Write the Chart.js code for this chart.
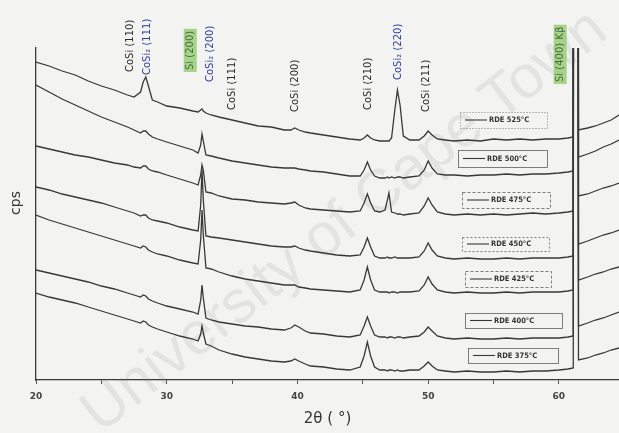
<!DOCTYPE html>
<html>
<head>
<meta charset="utf-8">
<script src="https://cdn.jsdelivr.net/npm/chart.js@4.4.1/dist/chart.umd.min.js"></script>
<style>
  html, body { margin: 0; padding: 0; background: #f3f3f1; }
  #wrap { width: 619px; height: 433px; position: relative; }
</style>
</head>
<body>
<div id="wrap"><canvas id="xrd" width="619" height="433"></canvas></div>
<script>
// 2θ sampling positions (degrees), shared by every pattern
const twoTheta = [20, 21, 22, 23, 24, 25, 26, 27, 27.5, 28,
  28.2, 28.4, 28.6, 28.9, 29.3, 30, 31, 32, 32.4, 32.6,
  32.7, 32.8, 33, 33.4, 34, 35, 36, 37, 38, 39,
  39.5, 39.8, 40.1, 40.6, 41, 42, 43, 44, 44.8, 45.1,
  45.35, 45.6, 45.9, 46.3, 46.7, 46.9, 47.0, 47.2, 47.45, 47.65,
  47.85, 48.1, 48.6, 49.3, 49.7, 50.0, 50.3, 50.7, 51.3, 52,
  53, 54, 55, 56, 57, 58, 59, 60, 60.7, 61.1,
  61.2, 61.4, 61.5, 62.2, 62.8, 63.4, 64, 64.6];

// Offset intensities (cps) for each anneal temperature, top pattern first
const rde525 = [318, 314, 309, 305, 299, 294, 290, 285, 283, 288,
  298, 303, 294, 280, 278, 274, 272, 269, 268, 270,
  271, 269, 267, 265, 263, 260, 257, 254, 253, 250,
  250, 252, 250, 248, 247, 245, 243, 241, 240, 242,
  245, 242, 240, 239, 239, 239, 239, 242, 270, 290,
  275, 244, 240, 240, 244, 249, 245, 241, 240, 239,
  240, 239, 241, 240, 241, 240, 241, 241, 242, 243,
  2000, 2000, 250, 252, 254, 257, 260, 265];
const rde500 = [295, 288, 281, 275, 269, 263, 258, 253, 250, 247,
  249, 249, 246, 243, 241, 238, 234, 230, 227, 235,
  246, 239, 225, 224, 222, 219, 217, 215, 213, 212,
  212, 212, 211, 210, 209, 208, 206, 204, 204, 210,
  218, 210, 204, 202, 202, 203, 202, 203, 202, 203,
  203, 202, 203, 204, 210, 219, 212, 206, 205, 205,
  204, 205, 205, 206, 205, 206, 206, 207, 208, 209,
  2000, 2000, 223, 226, 229, 233, 236, 240];
const rde475 = [234, 231, 228, 225, 223, 220, 217, 215, 213, 212,
  214, 214, 211, 209, 208, 205, 201, 197, 195, 205,
  215, 210, 188, 187, 184, 181, 180, 178, 177, 176,
  177, 178, 175, 172, 171, 170, 169, 168, 169, 177,
  186, 177, 169, 168, 170, 181, 187, 168, 167, 166,
  166, 165, 166, 167, 174, 182, 175, 168, 166, 165,
  166, 165, 166, 165, 166, 167, 166, 167, 168, 169,
  2000, 2000, 184, 186, 189, 192, 194, 197];
const rde450 = [193, 190, 186, 183, 180, 177, 173, 169, 167, 164,
  165, 165, 162, 160, 159, 157, 153, 150, 149, 175,
  210, 180, 144, 143, 142, 140, 138, 136, 134, 133,
  133, 134, 132, 130, 129, 127, 125, 124, 125, 133,
  142, 133, 124, 122, 122, 123, 122, 122, 123, 122,
  122, 122, 122, 123, 129, 137, 130, 124, 122, 121,
  122, 121, 121, 122, 121, 122, 122, 122, 123, 124,
  2000, 2000, 136, 139, 142, 145, 147, 150];
const rde425 = [165, 160, 156, 152, 148, 144, 140, 136, 134, 132,
  134, 133, 130, 128, 126, 124, 120, 117, 116, 140,
  170, 145, 112, 111, 108, 104, 101, 99, 97, 95,
  95, 95, 93, 92, 91, 90, 89, 88, 90, 100,
  113, 100, 90, 88, 88, 88, 87, 88, 88, 87,
  88, 88, 88, 89, 95, 103, 96, 90, 88, 87,
  88, 87, 87, 88, 87, 88, 88, 88, 89, 90,
  2000, 2000, 100, 103, 106, 108, 111, 113];
const rde400 = [110, 107, 104, 101, 98, 94, 91, 87, 85, 83,
  85, 84, 81, 79, 77, 74, 71, 68, 66, 80,
  95, 82, 62, 60, 58, 56, 54, 53, 51, 50,
  52, 55, 53, 49, 47, 46, 44, 43, 45, 54,
  63, 54, 45, 43, 43, 42, 43, 43, 42, 43,
  43, 42, 43, 44, 48, 53, 49, 44, 42, 41,
  42, 41, 41, 42, 41, 42, 42, 42, 43, 44,
  2000, 2000, 54, 57, 60, 62, 65, 68];
const rde375 = [87, 83, 80, 77, 73, 69, 65, 61, 59, 57,
  59, 58, 55, 53, 51, 48, 44, 41, 39, 46,
  54, 47, 36, 34, 30, 26, 23, 21, 19, 18,
  19, 21, 19, 16, 14, 13, 11, 10, 13, 24,
  38, 24, 13, 10, 10, 9, 10, 10, 9, 10,
  9, 9, 10, 10, 14, 18, 14, 10, 9, 8,
  9, 8, 8, 9, 8, 9, 9, 10, 11, 12,
  2000, 2000, 20, 22, 25, 27, 30, 32];

const seriesLabels = ['RDE 525°C', 'RDE 500°C', 'RDE 475°C', 'RDE 450°C', 'RDE 425°C', 'RDE 400°C', 'RDE 375°C'];
const seriesValues = [rde525, rde500, rde475, rde450, rde425, rde400, rde375];

// Reflection labels and the 2θ they are written at
const peakLabels = ['CoSi (110)', 'CoSi₂ (111)', 'Si (200)', 'CoSi₂ (200)', 'CoSi (111)',
  'CoSi (200)', 'CoSi (210)', 'CoSi₂ (220)', 'CoSi (211)', 'Si (400) Kβ'];
const peakAngles = [27.25, 28.55, 31.8, 33.35, 35.05, 39.85, 45.4, 47.7, 49.9, 60.1];
const peakKinds = ['CoSi', 'CoSi2', 'Si', 'CoSi2', 'CoSi', 'CoSi', 'CoSi', 'CoSi2', 'CoSi', 'Si'];

// Layout of the drawn labels (pixels)
const peakLabelBottom = [72, 75, 70, 82, 110, 112, 110, 80, 112, 82];
const legendFrames = [
  { l: 460, t: 112, r: 547, b: 128, dash: [1, 2] },
  { l: 458, t: 150, r: 547, b: 167, dash: [] },
  { l: 462, t: 192, r: 550, b: 208, dash: [3, 2] },
  { l: 462, t: 237, r: 549, b: 251, dash: [2, 2] },
  { l: 465, t: 271, r: 551, b: 287, dash: [3, 2] },
  { l: 465, t: 313, r: 562, b: 328, dash: [] },
  { l: 468, t: 348, r: 558, b: 363, dash: [] }
];

const lineColor = '#383838';

const backdrop = {
  id: 'backdrop',
  beforeDraw(chart) {
    const ctx = chart.ctx;
    ctx.save();
    ctx.fillStyle = '#f3f3f1';
    ctx.fillRect(0, 0, chart.width, chart.height);
    ctx.restore();
  },
  beforeDatasetsDraw(chart) {
    const ctx = chart.ctx;
    ctx.save();
    ctx.translate(345, 222);
    ctx.rotate(-38 * Math.PI / 180);
    ctx.font = '60px "Liberation Sans", Arial, sans-serif';
    ctx.fillStyle = 'rgba(120,120,120,0.13)';
    ctx.textAlign = 'center';
    ctx.textBaseline = 'middle';
    ctx.fillText('University of Cape Town', 0, 0);
    ctx.restore();
  }
};

const annotations = {
  id: 'annotations',
  afterDraw(chart) {
    const ctx = chart.ctx;
    const xs = chart.scales.x;
    ctx.save();
    // reflection labels, written vertically above the peaks
    ctx.font = '10px "DejaVu Sans", sans-serif';
    peakLabels.forEach((txt, i) => {
      const px = xs.getPixelForValue(peakAngles[i]);
      const py = peakLabelBottom[i];
      ctx.save();
      ctx.translate(px, py);
      ctx.rotate(-Math.PI / 2);
      ctx.textAlign = 'left';
      ctx.textBaseline = 'middle';
      const w = ctx.measureText(txt).width;
      if (peakKinds[i] === 'Si') {
        ctx.fillStyle = 'rgba(150,205,120,0.85)';
        ctx.fillRect(-2, -6.5, w + 4, 13);
        ctx.fillStyle = '#4d6a3c';
      } else if (peakKinds[i] === 'CoSi2') {
        ctx.fillStyle = '#2c3f9a';
      } else {
        ctx.fillStyle = '#2a2a2a';
      }
      ctx.fillText(txt, 0, 0);
      ctx.restore();
    });

    // per-pattern legend frames
    chart.data.datasets.forEach((ds, i) => {
      const f = legendFrames[i];
      const my = (f.t + f.b) / 2;
      ctx.save();
      ctx.strokeStyle = '#707070';
      ctx.lineWidth = 0.9;
      ctx.setLineDash(f.dash);
      ctx.strokeRect(f.l + 0.5, f.t + 0.5, f.r - f.l, f.b - f.t);
      ctx.setLineDash([]);
      ctx.strokeStyle = ds.borderColor;
      ctx.lineWidth = 1.1;
      ctx.beginPath();
      ctx.moveTo(f.l + 5, my);
      ctx.lineTo(f.l + 27, my);
      ctx.stroke();
      ctx.fillStyle = '#333';
      ctx.font = 'bold 7.5px "DejaVu Sans Condensed", "DejaVu Sans", sans-serif';
      ctx.textAlign = 'left';
      ctx.textBaseline = 'middle';
      ctx.fillText(ds.label, f.l + 29, my + 0.5);
      ctx.restore();
    });

    // vertical axis caption
    ctx.save();
    ctx.translate(16, 203);
    ctx.rotate(-Math.PI / 2);
    ctx.font = '14px "DejaVu Sans", sans-serif';
    ctx.fillStyle = '#333';
    ctx.textAlign = 'center';
    ctx.textBaseline = 'middle';
    ctx.fillText('cps', 0, 0);
    ctx.restore();
    ctx.restore();
  }
};

new Chart(document.getElementById('xrd'), {
  type: 'line',
  data: {
    datasets: seriesLabels.map((label, i) => ({
      label,
      data: twoTheta.map((t, j) => ({ x: t, y: seriesValues[i][j] })),
      borderColor: lineColor,
      borderWidth: 1.3,
      pointRadius: 0,
      fill: false,
      tension: 0
    }))
  },
  options: {
    responsive: false,
    animation: false,
    devicePixelRatio: 1,
    layout: { padding: { top: 48, right: 0, left: 0, bottom: 0 } },
    plugins: { legend: { display: false }, tooltip: { enabled: false } },
    scales: {
      x: {
        type: 'linear',
        min: 20,
        max: 64.6,
        afterFit(scale) {
          scale.height = 53;
          scale.paddingLeft = 0;
          scale.paddingRight = 0;
        },
        border: { display: true, color: '#3a3a3a', width: 1.3 },
        grid: {
          display: true,
          drawOnChartArea: false,
          drawTicks: true,
          tickLength: 4,
          color: (c) => (c.tick && c.tick.value % 5 === 0) ? '#555' : 'rgba(0,0,0,0)'
        },
        ticks: {
          stepSize: 5,
          autoSkip: false,
          maxRotation: 0,
          padding: 7,
          color: '#444',
          font: { family: 'DejaVu Sans', size: 9, weight: 'bold' },
          callback: (v) => (v % 10 === 0 ? String(v) : '')
        },
        title: {
          display: true,
          text: '2θ ( °)',
          color: '#333',
          font: { family: 'DejaVu Sans', size: 15 },
          padding: { top: 0, bottom: 5 }
        }
      },
      y: {
        min: 0,
        max: 332,
        afterFit(scale) { scale.width = 36; },
        border: { display: true, color: '#3a3a3a', width: 1.3 },
        grid: { display: false },
        ticks: { display: false }
      }
    }
  },
  plugins: [backdrop, annotations]
});
</script>
</body>
</html>
